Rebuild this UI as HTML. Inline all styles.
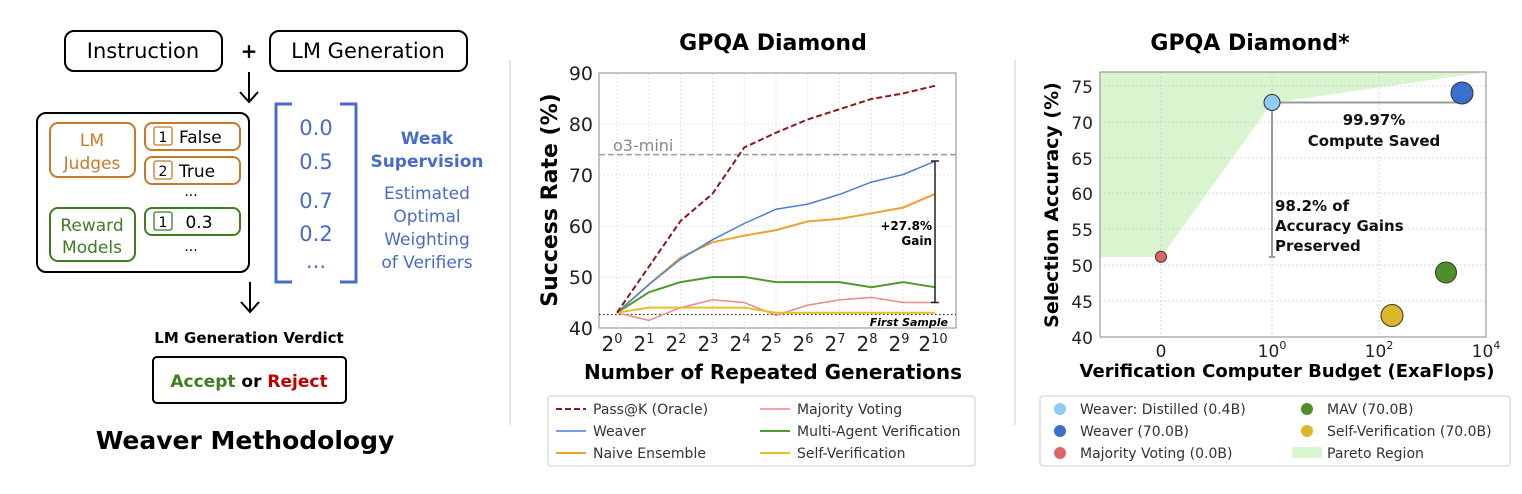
<!DOCTYPE html>
<html><head><meta charset="utf-8"><style>
body{margin:0;background:#fff;}
svg{display:block;font-family:"DejaVu Sans","Liberation Sans",sans-serif;}
</style></head><body>
<svg width="1522" height="494" viewBox="0 0 1522 494" xmlns="http://www.w3.org/2000/svg">
<line x1="510" y1="60" x2="510" y2="425" stroke="#ccc" stroke-width="1"/>
<line x1="1015" y1="60" x2="1015" y2="425" stroke="#ccc" stroke-width="1"/>

<g font-family="DejaVu Sans, Liberation Sans, sans-serif">
<rect x="65" y="31" width="157" height="40" rx="9" fill="none" stroke="#000" stroke-width="2"/>
<text x="143" y="58" font-size="21" text-anchor="middle">Instruction</text>
<text x="249" y="58" font-size="20" font-weight="bold" text-anchor="middle">+</text>
<rect x="270" y="31" width="197" height="40" rx="9" fill="none" stroke="#000" stroke-width="2"/>
<text x="368" y="58" font-size="21" text-anchor="middle">LM Generation</text>
<path d="M249 72 V101 M240 92 L249 102 L258 92" fill="none" stroke="#000" stroke-width="2"/>
<rect x="37" y="113" width="212" height="159" rx="9" fill="none" stroke="#000" stroke-width="2"/>
<rect x="50" y="123" width="85" height="54" rx="8" fill="none" stroke="#c87a28" stroke-width="2"/>
<text x="92" y="146" font-size="17" fill="#c87a28" text-anchor="middle">LM</text>
<text x="92" y="169" font-size="17" fill="#c87a28" text-anchor="middle">Judges</text>
<rect x="145" y="123" width="95" height="27" rx="7" fill="none" stroke="#c87a28" stroke-width="2"/>
<rect x="154" y="127" width="18" height="18" rx="2" fill="none" stroke="#c87a28" stroke-width="1.3"/>
<text x="163" y="142" font-size="14" text-anchor="middle">1</text>
<text x="179" y="143" font-size="17">False</text>
<rect x="145" y="157" width="95" height="27" rx="7" fill="none" stroke="#c87a28" stroke-width="2"/>
<rect x="154" y="161" width="18" height="18" rx="2" fill="none" stroke="#c87a28" stroke-width="1.3"/>
<text x="163" y="176" font-size="14" text-anchor="middle">2</text>
<text x="179" y="177" font-size="17">True</text>
<text x="191" y="196" font-size="14" text-anchor="middle">...</text>
<rect x="50" y="208" width="85" height="53" rx="8" fill="none" stroke="#3f7d20" stroke-width="2"/>
<text x="92" y="231" font-size="17" fill="#3f7d20" text-anchor="middle">Reward</text>
<text x="92" y="253" font-size="17" fill="#3f7d20" text-anchor="middle">Models</text>
<rect x="145" y="208" width="95" height="27" rx="7" fill="none" stroke="#3f7d20" stroke-width="2"/>
<rect x="154" y="212" width="18" height="18" rx="2" fill="none" stroke="#3f7d20" stroke-width="1.3"/>
<text x="163" y="227" font-size="14" text-anchor="middle">1</text>
<text x="199" y="228" font-size="17" text-anchor="middle">0.3</text>
<text x="191" y="251" font-size="14" text-anchor="middle">...</text>
<path d="M292 104 H276 V282 H292 M340 104 H356 V282 H340" fill="none" stroke="#4a6ac8" stroke-width="3"/>
<g fill="#4a6ac8" font-size="21" text-anchor="middle">
<text x="316" y="135">0.0</text><text x="316" y="169">0.5</text><text x="316" y="208">0.7</text><text x="316" y="241">0.2</text><text x="316" y="268">...</text>
</g>
<g fill="#4a6ac8" text-anchor="middle">
<text x="427" y="144" font-size="17" font-weight="bold">Weak</text>
<text x="427" y="167" font-size="17" font-weight="bold">Supervision</text>
<text x="427" y="199" font-size="17">Estimated</text>
<text x="427" y="222" font-size="17">Optimal</text>
<text x="427" y="245" font-size="17">Weighting</text>
<text x="427" y="268" font-size="17">of Verifiers</text>
</g>
<path d="M250 282 V311 M241 302 L250 312 L259 302" fill="none" stroke="#000" stroke-width="2"/>
<text x="249" y="343" font-size="15" font-weight="bold" text-anchor="middle">LM Generation Verdict</text>
<rect x="153" y="357" width="193" height="46" rx="4" fill="none" stroke="#000" stroke-width="2"/>
<text x="249" y="387" font-size="17" font-weight="bold" text-anchor="middle"><tspan fill="#3f7d20">Accept</tspan> or <tspan fill="#c00000">Reject</tspan></text>
<text x="245" y="449" font-size="25" font-weight="bold" text-anchor="middle">Weaver Methodology</text>
</g>

<text x="773" y="50" font-size="22" font-weight="bold" text-anchor="middle">GPQA Diamond</text>
<g stroke="#ddd" stroke-width="0.8" stroke-dasharray="2,2">
<line x1="599" y1="124" x2="956" y2="124"/><line x1="599" y1="175" x2="956" y2="175"/><line x1="599" y1="226" x2="956" y2="226"/><line x1="599" y1="277" x2="956" y2="277"/>
<line x1="617" y1="73" x2="617" y2="328"/><line x1="648.8" y1="73" x2="648.8" y2="328"/><line x1="680.6" y1="73" x2="680.6" y2="328"/><line x1="712.4" y1="73" x2="712.4" y2="328"/><line x1="744.2" y1="73" x2="744.2" y2="328"/><line x1="776" y1="73" x2="776" y2="328"/><line x1="807.8" y1="73" x2="807.8" y2="328"/><line x1="839.6" y1="73" x2="839.6" y2="328"/><line x1="871.4" y1="73" x2="871.4" y2="328"/><line x1="903.2" y1="73" x2="903.2" y2="328"/><line x1="935" y1="73" x2="935" y2="328"/>
</g>
<rect x="599" y="73" width="357" height="255" fill="none" stroke="#888" stroke-width="1"/>
<line x1="599" y1="154.6" x2="956" y2="154.6" stroke="#999" stroke-width="1.5" stroke-dasharray="6,3"/>
<text x="613" y="151" font-size="16" fill="#888">o3-mini</text>
<line x1="599" y1="314.5" x2="956" y2="314.5" stroke="#333" stroke-width="1.2" stroke-dasharray="1.5,2.5"/>
<text x="948" y="326" font-size="11" font-weight="bold" font-style="italic" text-anchor="end">First Sample</text>
<g fill="none" stroke-width="1.5">
<polyline stroke="#e88a8a" points="617,312.7 648.8,320.4 680.6,307.6 712.4,299.9 744.2,302.5 776,315.3 807.8,305.1 839.6,299.9 871.4,297.4 903.2,302.5 935,302.5"/>
<polyline stroke="#e6c029" stroke-width="2" points="617,312.7 648.8,307.6 680.6,307.6 712.4,307.6 744.2,307.6 776,312.7 807.8,312.7 839.6,312.7 871.4,312.7 903.2,312.7 935,312.7"/>
<polyline stroke="#4f9a2a" stroke-width="2" points="617,312.7 648.8,292.3 680.6,282.1 712.4,277 744.2,277 776,282.1 807.8,282.1 839.6,282.1 871.4,287.2 903.2,282.1 935,287.2"/>
<polyline stroke="#f0a030" stroke-width="2" points="617,312.7 648.8,284.6 680.6,257.6 712.4,242.3 744.2,235.7 776,230.1 807.8,221.4 839.6,218.9 871.4,213.3 903.2,207.6 935,193.9"/>
<polyline stroke="#4a7fd8" points="617,312.7 648.8,284.6 680.6,259.2 712.4,239.8 744.2,223.5 776,209.2 807.8,204.1 839.6,194.4 871.4,182.1 903.2,174.5 935,161.2"/>
<polyline stroke="#8b1a1a" stroke-width="2" stroke-dasharray="6,3" points="617,312.7 648.8,266.8 680.6,220.9 712.4,193.9 744.2,147.5 776,132.7 807.8,119.4 839.6,109.2 871.4,99 903.2,93.4 935,85.8"/>
</g>
<path d="M935 161 V302.5 M931 161 H939 M931 302.5 H939" stroke="#222" stroke-width="1.5" fill="none"/>
<text x="932" y="230" font-size="12" font-weight="bold" text-anchor="end">+27.8%</text>
<text x="932" y="245" font-size="12" font-weight="bold" text-anchor="end">Gain</text>
<g font-size="19" fill="#222" text-anchor="end">
<text x="593" y="80">90</text><text x="593" y="131">80</text><text x="593" y="182">70</text><text x="593" y="233">60</text><text x="593" y="284">50</text><text x="593" y="335">40</text>
</g>
<g font-size="20" fill="#222" text-anchor="middle">
<text x="612" y="351">2<tspan font-size="13" dy="-8">0</tspan></text>
<text x="644" y="351">2<tspan font-size="13" dy="-8">1</tspan></text>
<text x="676" y="351">2<tspan font-size="13" dy="-8">2</tspan></text>
<text x="708" y="351">2<tspan font-size="13" dy="-8">3</tspan></text>
<text x="740" y="351">2<tspan font-size="13" dy="-8">4</tspan></text>
<text x="771" y="351">2<tspan font-size="13" dy="-8">5</tspan></text>
<text x="803" y="351">2<tspan font-size="13" dy="-8">6</tspan></text>
<text x="835" y="351">2<tspan font-size="13" dy="-8">7</tspan></text>
<text x="867" y="351">2<tspan font-size="13" dy="-8">8</tspan></text>
<text x="899" y="351">2<tspan font-size="13" dy="-8">9</tspan></text>
<text x="933" y="351">2<tspan font-size="13" dy="-8">10</tspan></text>
</g>
<text x="557" y="200" font-size="22" font-weight="bold" text-anchor="middle" transform="rotate(-90 557 200)">Success Rate (%)</text>
<text x="773" y="379" font-size="20" font-weight="bold" text-anchor="middle">Number of Repeated Generations</text>
<rect x="548" y="396" width="427" height="70" rx="3" fill="#fff" stroke="#ccc"/>
<g font-size="14" fill="#333">
<line x1="556" y1="409" x2="586" y2="409" stroke="#8b1a1a" stroke-width="2" stroke-dasharray="6,3"/><text x="593" y="414">Pass@K (Oracle)</text>
<line x1="556" y1="431" x2="586" y2="431" stroke="#4a7fd8" stroke-width="1.5"/><text x="593" y="436">Weaver</text>
<line x1="556" y1="453" x2="586" y2="453" stroke="#f0a030" stroke-width="2"/><text x="593" y="458">Naive Ensemble</text>
<line x1="760" y1="409" x2="790" y2="409" stroke="#e88a8a" stroke-width="1.5"/><text x="797" y="414">Majority Voting</text>
<line x1="760" y1="431" x2="790" y2="431" stroke="#4f9a2a" stroke-width="2"/><text x="797" y="436">Multi-Agent Verification</text>
<line x1="760" y1="453" x2="790" y2="453" stroke="#e6c029" stroke-width="2"/><text x="797" y="458">Self-Verification</text>
</g>

<text x="1250" y="50" font-size="22" font-weight="bold" text-anchor="middle">GPQA Diamond*</text>
<polygon points="1100,257 1161,257 1272,103 1486,72 1100,72" fill="#d9f5d0"/>
<g stroke="#ccc" stroke-width="0.8" stroke-dasharray="2,2">
<line x1="1100" y1="86" x2="1486" y2="86"/><line x1="1100" y1="122" x2="1486" y2="122"/><line x1="1100" y1="158" x2="1486" y2="158"/><line x1="1100" y1="193" x2="1486" y2="193"/><line x1="1100" y1="229" x2="1486" y2="229"/><line x1="1100" y1="265" x2="1486" y2="265"/><line x1="1100" y1="301" x2="1486" y2="301"/>
<line x1="1161" y1="72" x2="1161" y2="337"/><line x1="1272" y1="72" x2="1272" y2="337"/><line x1="1379" y1="72" x2="1379" y2="337"/>
</g>
<rect x="1100" y="72" width="386" height="265" fill="none" stroke="#888" stroke-width="1"/>
<path d="M1272 102.5 H1462 M1272 102.5 V257 M1269 257 H1275" stroke="#999" stroke-width="2" fill="none"/>
<circle cx="1161" cy="256.7" r="5.5" fill="#e06666" stroke="#333" stroke-width="1"/>
<circle cx="1272" cy="102.5" r="8" fill="#8ecbf5" stroke="#333" stroke-width="1"/>
<circle cx="1462" cy="93" r="11" fill="#3a6fd0" stroke="#333" stroke-width="1"/>
<circle cx="1446" cy="272.5" r="10.5" fill="#4f8f2a" stroke="#333" stroke-width="1"/>
<circle cx="1392" cy="315.5" r="11" fill="#dcb72c" stroke="#333" stroke-width="1"/>
<g font-size="15" font-weight="bold" fill="#111">
<text x="1374" y="125" text-anchor="middle">99.97%</text>
<text x="1374" y="146" text-anchor="middle">Compute Saved</text>
<text x="1275" y="211">98.2% of</text>
<text x="1275" y="231">Accuracy Gains</text>
<text x="1275" y="251">Preserved</text>
</g>
<g font-size="17" fill="#222" text-anchor="end">
<text x="1093" y="93">75</text><text x="1093" y="129">70</text><text x="1093" y="165">65</text><text x="1093" y="200">60</text><text x="1093" y="236">55</text><text x="1093" y="272">50</text><text x="1093" y="308">45</text><text x="1093" y="344">40</text>
</g>
<g font-size="17" fill="#222" text-anchor="middle">
<text x="1161" y="357">0</text>
<text x="1272" y="357">10<tspan font-size="11" dy="-8">0</tspan></text>
<text x="1379" y="357">10<tspan font-size="11" dy="-8">2</tspan></text>
<text x="1486" y="357">10<tspan font-size="11" dy="-8">4</tspan></text>
</g>
<text x="1058" y="205" font-size="19" font-weight="bold" text-anchor="middle" transform="rotate(-90 1058 205)">Selection Accuracy (%)</text>
<text x="1287" y="377" font-size="18" font-weight="bold" text-anchor="middle">Verification Computer Budget (ExaFlops)</text>
<rect x="1040" y="396" width="470" height="70" rx="3" fill="#fff" stroke="#ccc"/>
<g font-size="14" fill="#333">
<circle cx="1060" cy="409" r="6" fill="#8ecbf5"/><text x="1080" y="414">Weaver: Distilled (0.4B)</text>
<circle cx="1060" cy="431" r="6" fill="#3a6fd0"/><text x="1080" y="436">Weaver (70.0B)</text>
<circle cx="1060" cy="453" r="6" fill="#e06666"/><text x="1080" y="458">Majority Voting (0.0B)</text>
<circle cx="1307" cy="409" r="6" fill="#4f8f2a"/><text x="1327" y="414">MAV (70.0B)</text>
<circle cx="1307" cy="431" r="6" fill="#dcb72c"/><text x="1327" y="436">Self-Verification (70.0B)</text>
<rect x="1292" y="447" width="30" height="11" fill="#d9f5d0"/><text x="1327" y="458">Pareto Region</text>
</g>
</svg>
</body></html>
